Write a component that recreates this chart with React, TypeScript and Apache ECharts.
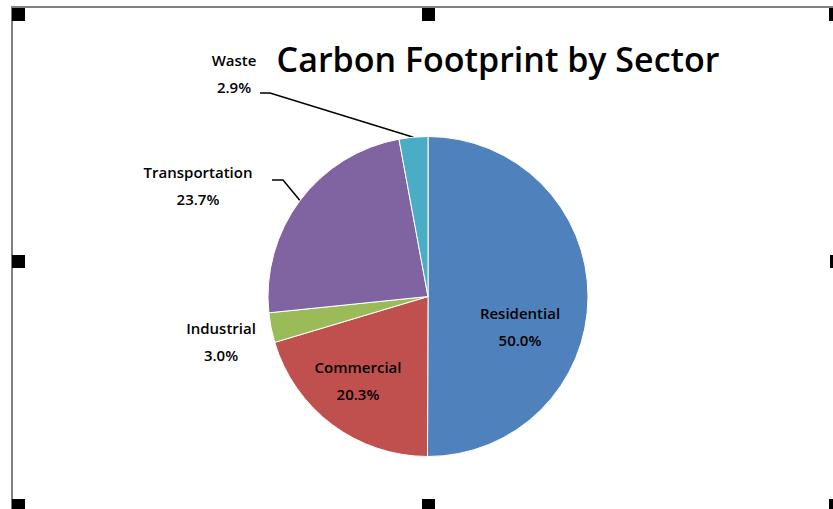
import { useEffect, useRef } from 'react';
import * as echarts from 'echarts';

const titleText = 'Carbon Footprint by Sector';
const categories = ['Residential', 'Commercial', 'Industrial', 'Transportation', 'Waste'];
const values = [50.0, 20.3, 3.0, 23.7, 2.9];
const colors = ['#4F81BD', '#C0504D', '#9BBB59', '#8064A2', '#4BACC6'];

// layout (not data)
const CENTER = [428, 296.5];
const RADIUS = 160;
const labelPlace: { x: number; y: number; inside: boolean; elbow?: number[]; end?: number[] }[] = [
  { x: 520, y: 326, inside: true },
  { x: 358, y: 380, inside: true },
  { x: 221, y: 341, inside: false },
  { x: 198, y: 185, inside: false, elbow: [283, 180], end: [272, 180] },
  { x: 234, y: 73.5, inside: false, elbow: [270, 93], end: [260, 93] },
];

function edgePoint(i: number): number[] {
  const total = values.reduce((a, b) => a + b, 0);
  let cum = 0;
  for (let k = 0; k < i; k++) cum += values[k];
  const theta = ((cum + values[i] / 2) / total) * Math.PI * 2;
  return [CENTER[0] + RADIUS * Math.sin(theta), CENTER[1] - RADIUS * Math.cos(theta)];
}

export default function App() {
  const ref = useRef<HTMLDivElement>(null);
  useEffect(() => {
    document.body.style.margin = '0';
    const chart = echarts.init(ref.current!, null, { renderer: 'svg' });
    const handle = (x: number, y: number) => ({
      type: 'rect',
      shape: { x, y, width: 13, height: 13 },
      style: { fill: '#000' },
      silent: true,
      z: 100,
    });
    chart.setOption({
      animation: false,
      backgroundColor: '#fff',
      title: {
        text: titleText,
        left: 498,
        top: 42,
        padding: 0,
        textAlign: 'center',
        textStyle: { fontFamily: 'Open Sans', fontSize: 34, fontWeight: 600, color: '#000' },
      },
      graphic: [
        { type: 'line', shape: { x1: 11, y1: 7, x2: 833, y2: 7 }, style: { stroke: '#808080', lineWidth: 2 }, silent: true },
        { type: 'line', shape: { x1: 12, y1: 6, x2: 12, y2: 509 }, style: { stroke: '#808080', lineWidth: 2 }, silent: true },
        handle(12, 8),
        handle(422, 8),
        handle(829, 8),
        handle(12, 255),
        handle(830, 255),
        handle(12, 499),
        handle(422, 499),
        handle(829, 499),
      ],
      series: [
        {
          type: 'pie',
          center: CENTER,
          radius: RADIUS,
          startAngle: 90,
          clockwise: true,
          silent: true,
          itemStyle: { borderColor: '#fff', borderWidth: 1 },
          emphasis: { disabled: true },
          label: {
            color: '#000',
            fontFamily: 'Open Sans',
            fontSize: 15,
            fontWeight: 600,
            lineHeight: 27,
            align: 'center',
            formatter: (p: any) => `${p.name}\n${Number(p.value).toFixed(1)}%`,
          },
          labelLine: { lineStyle: { color: '#000', width: 1.5 } },
          labelLayout: (params: any) => {
            const i = params.dataIndex;
            const p = labelPlace[i];
            const res: any = { x: p.x, y: p.y, align: 'center', verticalAlign: 'middle' };
            if (p.elbow && p.end) res.labelLinePoints = [edgePoint(i), p.elbow, p.end];
            return res;
          },
          data: categories.map((name, i) => ({
            name,
            value: values[i],
            itemStyle: { color: colors[i] },
            label: { position: labelPlace[i].inside ? 'inside' : 'outside' },
            labelLine: { show: !!labelPlace[i].elbow },
          })),
        },
      ],
    });
    return () => chart.dispose();
  }, []);
  return <div ref={ref} style={{ width: 833, height: 509 }} />;
}
